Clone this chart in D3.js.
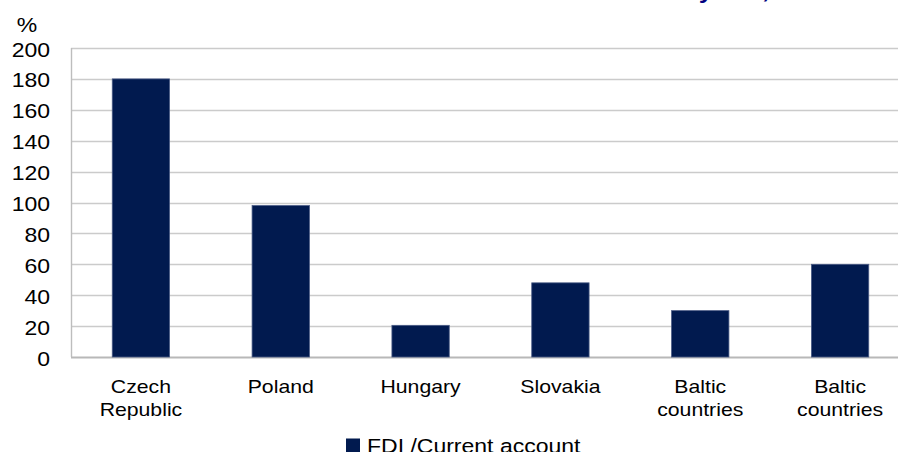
<!DOCTYPE html>
<html>
<head>
<meta charset="utf-8">
<script src="https://cdn.jsdelivr.net/npm/d3@7/dist/d3.min.js"></script>
<style>
  html, body { margin: 0; padding: 0; background: #fff; }
  svg { display: block; }
  text { font-family: "Liberation Sans", Arial, sans-serif; fill: #000; }
</style>
</head>
<body>
<svg id="chart" width="898" height="452"></svg>
<script>
// Chart data
const categories = [["Czech", "Republic"], ["Poland"], ["Hungary"], ["Slovakia"], ["Baltic", "countries"], ["Baltic", "countries"]];
const fdiToCurrentAccount = [180, 98, 20.5, 48, 30, 60];
const yTicks = [0, 20, 40, 60, 80, 100, 120, 140, 160, 180, 200];
const seriesName = "FDI /Current account";
const unitLabel = "%";
const titleText = "Share of current account deficit covered by FDI, 2006";

const W = 898, H = 452;
const margin = { left: 71, top: 48, bottom: 357, right: 910 };
const barColor = "#011a4f";
const sx = 1.18; // horizontal stretch of the lettering

const svg = d3.select("#chart");

const x = d3.scaleBand()
  .domain(d3.range(categories.length))
  .range([margin.left, margin.right])
  .paddingInner(0.59)
  .paddingOuter(0.295);

const y = d3.scaleLinear().domain([0, 200]).range([margin.bottom, margin.top]);

// helper for horizontally stretched text
function stretchedText(g, tx, ty, str, size, anchor) {
  return g.append("text")
    .attr("transform", `translate(${tx},${ty}) scale(${sx},1)`)
    .attr("text-anchor", anchor)
    .attr("font-size", size)
    .text(str);
}

// Title (runs above the top edge; only its descenders reach the page)
const titleG = svg.append("g");
const measure = titleG.append("text")
  .attr("font-size", 22).attr("font-weight", "bold")
  .text(titleText.slice(0, titleText.indexOf("by ") + 1));
const prefixW = measure.node().getComputedTextLength() * sx;
measure.remove();
titleG.append("text")
  .attr("transform", `translate(${699 - prefixW},-2.5) scale(${sx},1)`)
  .attr("font-size", 22).attr("font-weight", "bold")
  .style("fill", "#000080")
  .text(titleText);

// Gridlines
svg.append("g")
  .selectAll("line")
  .data(yTicks)
  .join("line")
  .attr("x1", margin.left).attr("x2", W)
  .attr("y1", d => Math.round(y(d)) + 0.5).attr("y2", d => Math.round(y(d)) + 0.5)
  .attr("stroke", d => d === 0 ? "#b8b8b8" : "#cbcbcb")
  .attr("stroke-width", d => d === 0 ? 2 : 1.4);

// Left axis line
svg.append("line")
  .attr("x1", margin.left + 0.5).attr("x2", margin.left + 0.5)
  .attr("y1", y(200)).attr("y2", y(0))
  .attr("stroke", "#bdbdbd").attr("stroke-width", 1.4);

// Y tick labels
const yLab = svg.append("g");
yTicks.forEach(t => stretchedText(yLab, 50, y(t) + 8.5, t, 19.5, "end"));
stretchedText(svg, 27, 32, unitLabel, 19.5, "middle");

// Bars
svg.append("g")
  .selectAll("rect")
  .data(fdiToCurrentAccount)
  .join("rect")
  .attr("x", (d, i) => x(i))
  .attr("width", x.bandwidth())
  .attr("y", d => y(d))
  .attr("height", d => y(0) - y(d))
  .attr("fill", barColor)
  .attr("stroke", "#4a5b85")
  .attr("stroke-width", 0.8);

// Category labels
const xLab = svg.append("g");
categories.forEach((lines, i) => {
  const cx = x(i) + x.bandwidth() / 2;
  lines.forEach((ln, j) => stretchedText(xLab, cx, 393 + j * 23, ln, 18, "middle"));
});

// Legend
svg.append("rect")
  .attr("x", 346).attr("y", 438.5)
  .attr("width", 14).attr("height", 14)
  .attr("fill", barColor);
stretchedText(svg, 367, 452.5, seriesName, 19.5, "start");
</script>
</body>
</html>
